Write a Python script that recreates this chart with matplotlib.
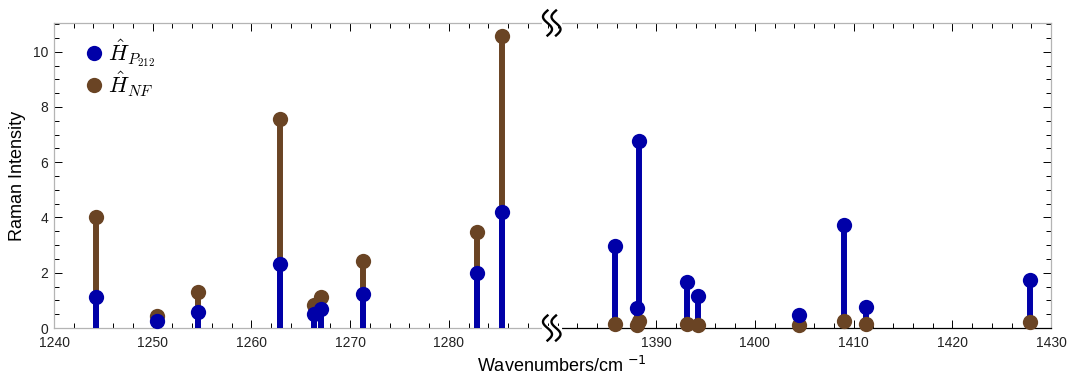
import numpy as np
import matplotlib.pyplot as plt
import matplotlib.transforms as mtransforms
from matplotlib.lines import Line2D
from matplotlib.ticker import MultipleLocator

# Datos (numero de onda en cm^-1, intensidad Raman)
wavenumbers = [1244.3, 1250.4, 1254.6, 1262.9, 1266.3, 1267.1, 1271.3, 1282.9, 1285.4,
               1385.8, 1388.05, 1388.25, 1393.1, 1394.2, 1404.5, 1409.0, 1411.3, 1427.9]
int_p212 = [1.11, 0.26, 0.58, 2.30, 0.51, 0.68, 1.24, 2.00, 4.21,
            2.98, 0.74, 6.78, 1.68, 1.16, 0.47, 3.74, 0.75, 1.74]
int_nf = [4.03, 0.45, 1.31, 7.55, 0.83, 1.13, 2.42, 3.49, 10.57,
          0.14, 0.12, 0.25, 0.14, 0.10, 0.10, 0.27, 0.13, 0.20]

label_p212 = r"$\hat{H}_{P_{212}}$"
label_nf = r"$\hat{H}_{NF}$"

blue = "#0000A8"
brown = "#6A4424"
gray = "#B4B4B4"

plt.rcParams["font.family"] = ["Liberation Sans", "DejaVu Sans"]
plt.rcParams["mathtext.fontset"] = "cm"

W, H = 1067, 380
fig = plt.figure(figsize=(W / 100, H / 100), dpi=100)

# ejes partidos: posicion en pixeles
x0, xb, x1 = 54, 552, 1051
y0, y1 = 328, 23
px_per_unit = 9.87


def caja(a, b):
    return [a / W, (H - y0) / H, (b - a) / W, (y0 - y1) / H]


ax1 = fig.add_axes(caja(x0, xb))
ax2 = fig.add_axes(caja(xb, x1))

ax1.set_xlim(1240, 1240 + (xb - x0) / px_per_unit)
ax2.set_xlim(1430 - (x1 - xb) / px_per_unit, 1430)

x = np.array(wavenumbers)
p = np.array(int_p212)
nf = np.array(int_nf)

for ax, mask in [(ax1, x < 1300), (ax2, x > 1300)]:
    ax.set_ylim(0, 11.04)
    ax.vlines(x[mask], 0, nf[mask], color=brown, lw=4.3, zorder=2)
    ax.vlines(x[mask], 0, p[mask], color=blue, lw=4.3, zorder=3)
    ax.plot(x[mask], nf[mask], "o", color=brown, ms=11, mec="none", zorder=4, clip_on=False)
    ax.plot(x[mask], p[mask], "o", color=blue, ms=11, mec="none", zorder=5, clip_on=False)
    ax.xaxis.set_major_locator(MultipleLocator(10))
    ax.xaxis.set_minor_locator(MultipleLocator(2))
    ax.yaxis.set_major_locator(MultipleLocator(2))
    ax.yaxis.set_minor_locator(MultipleLocator(0.5))
    ax.tick_params(which="both", direction="in", top=True, width=0.7, color="black",
                   labelsize=10, labelcolor="#222222")
    ax.tick_params(which="major", length=5.5)
    ax.tick_params(which="minor", length=3.5)
    ax.tick_params(axis="x", pad=6)
    ax.tick_params(axis="y", pad=4)
    for s in ax.spines.values():
        s.set_color(gray)
        s.set_linewidth(0.9)

ax1.spines["right"].set_visible(False)
ax1.tick_params(which="both", right=False)
ax1.set_xticks([1240, 1250, 1260, 1270, 1280])

ax2.spines["left"].set_visible(False)
ax2.spines["bottom"].set_color("black")
ax2.tick_params(which="both", left=False, right=True, labelleft=False)
ax2.set_xticks([1390, 1400, 1410, 1420, 1430])

ax1.set_ylabel("Raman Intensity", fontsize=13, labelpad=5)
fig.text((x0 + x1) / 2 / W + 0.009, 8 / H, "Wavenumbers/cm $^{-1}$", ha="center", va="baseline",
         fontsize=13, math_fontfamily="dejavusans")

# marcas de corte del eje
t = np.linspace(-1, 1, 60)
for yy in (0, 1):
    trans = fig.dpi_scale_trans + mtransforms.ScaledTranslation(0, yy, ax2.transAxes)
    fig.add_artist(Line2D([-0.08, 0.08], [0, 0], color="white", lw=3, transform=trans, zorder=10))
    for dx in (-0.045, 0.04):
        fig.add_artist(Line2D(dx - 0.045 * np.sin(np.pi * t), 0.125 * t, color="black", lw=1.7,
                              transform=trans, zorder=11))

handles = [Line2D([], [], ls="none", marker="o", ms=11, color=blue, mec="none"),
           Line2D([], [], ls="none", marker="o", ms=11, color=brown, mec="none")]
ax1.legend(handles, [label_p212, label_nf], loc="upper left", bbox_to_anchor=(0.035, 0.99),
           frameon=False, fontsize=16, handletextpad=0.15, labelspacing=0.05, handlelength=1.0,
           borderpad=0)

fig.savefig("out.png", dpi=100)
